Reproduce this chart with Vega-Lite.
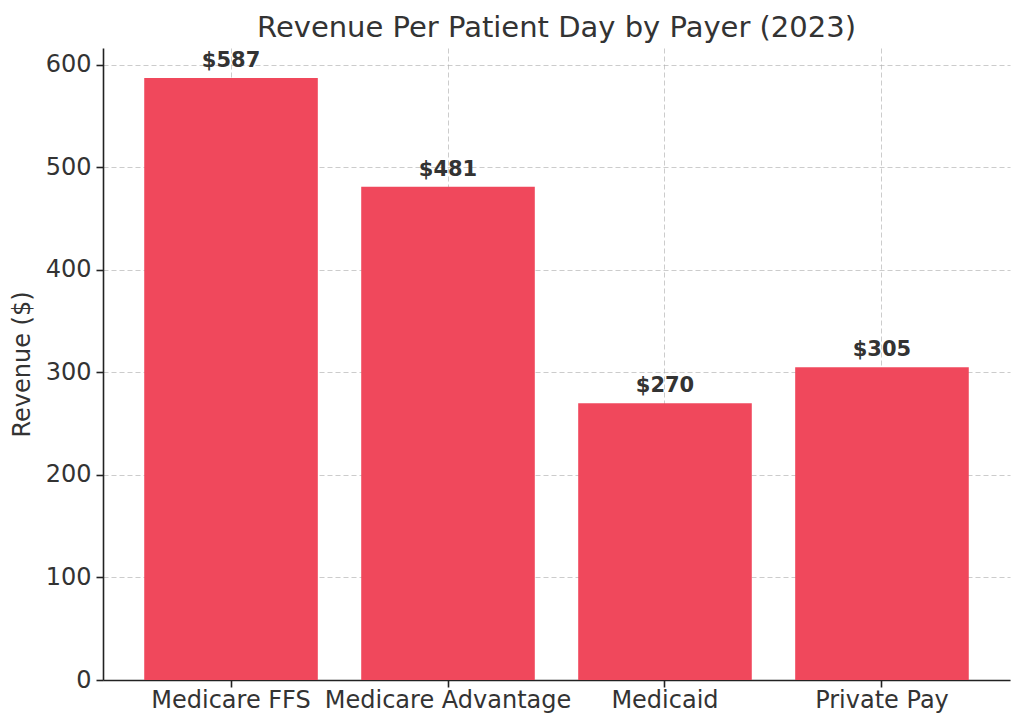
{
  "$schema": "https://vega.github.io/schema/vega-lite/v6.json",
  "width": 907,
  "height": 632,
  "autosize": {"type": "none"},
  "padding": {"left": 103, "top": 48, "right": 14, "bottom": 47},
  "background": "white",
  "config": {
    "font": "DejaVu Sans",
    "view": {"stroke": null},
    "axis": {
      "zindex": 1,
      "gridColor": "#b0b0b0",
      "gridOpacity": 0.65,
      "gridDash": [5, 3],
      "gridWidth": 1,
      "domainColor": "#222222",
      "domainWidth": 1.6,
      "tickColor": "#222222",
      "tickWidth": 1.6,
      "tickSize": 7,
      "labelFont": "DejaVu Sans",
      "labelFontSize": 24,
      "labelColor": "#333333",
      "labelLimit": 0,
      "labelOverlap": false,
      "titleFont": "DejaVu Sans",
      "titleFontSize": 24,
      "titleFontWeight": "normal",
      "titleColor": "#333333"
    }
  },
  "title": {
    "text": "Revenue Per Patient Day by Payer (2023)",
    "font": "DejaVu Sans",
    "fontSize": 29,
    "fontWeight": "normal",
    "color": "#333333",
    "offset": 5
  },
  "data": {
    "values": [
      {"payer": "Medicare FFS", "revenue": 587},
      {"payer": "Medicare Advantage", "revenue": 481},
      {"payer": "Medicaid", "revenue": 270},
      {"payer": "Private Pay", "revenue": 305}
    ]
  },
  "encoding": {
    "x": {
      "field": "payer",
      "type": "nominal",
      "sort": null,
      "scale": {"paddingInner": 0.2, "paddingOuter": 0.19},
      "axis": {"title": null, "labelAngle": 0, "labelPadding": 1, "grid": true, "bandPosition": 0.5}
    },
    "y": {
      "field": "revenue",
      "type": "quantitative",
      "scale": {"domain": [0, 616.35], "nice": false},
      "axis": {"title": "Revenue ($)", "values": [0, 100, 200, 300, 400, 500, 600], "labelPadding": 5, "titlePadding": 11}
    }
  },
  "layer": [
    {"mark": {"type": "bar", "color": "#f0485c"}},
    {
      "mark": {"type": "text", "baseline": "bottom", "dy": -7, "fontSize": 21, "fontWeight": "bold", "color": "#333333", "font": "DejaVu Sans"},
      "encoding": {"text": {"field": "revenue", "type": "quantitative", "format": "$d"}}
    }
  ]
}
